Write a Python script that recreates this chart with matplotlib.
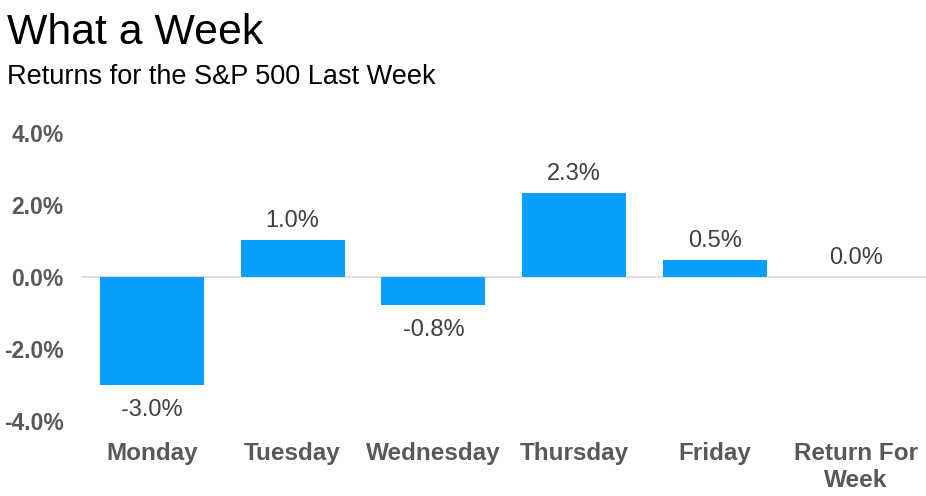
import matplotlib.pyplot as plt

plt.rcParams['font.family'] = ['Liberation Sans', 'DejaVu Sans']

# data
days = ['Monday', 'Tuesday', 'Wednesday', 'Thursday', 'Friday', 'Return For\nWeek']
returns = [-3.0, 1.03, -0.78, 2.33, 0.47, 0.0]
yticks = [-4, -2, 0, 2, 4]

fig = plt.figure(figsize=(9.26, 4.96), dpi=100)
ax = fig.add_axes([0.088, 0.151, 0.912, 0.581])

x = range(len(days))
ax.bar(x, returns, width=0.74, color='#0A9EFF', zorder=2)
ax.axhline(0, color='#D9D9D9', linewidth=1.2, zorder=1)

# value labels
for i, v in enumerate(returns):
    if v < 0:
        ax.annotate(f'{v:.1f}%', (i, v), xytext=(0, -10), textcoords='offset points',
                    ha='center', va='top', fontsize=17, color='#404040')
    else:
        ax.annotate(f'{v:.1f}%', (i, v), xytext=(0, 6), textcoords='offset points',
                    ha='center', va='bottom', fontsize=17, color='#404040')

ax.set_xlim(-0.5, len(days) - 0.5)
ax.set_ylim(-4, 4)
ax.set_yticks(yticks)
ax.set_yticklabels([f'{t:.1f}%' for t in yticks], fontsize=16.5, fontweight='bold', color='#595959')
ax.set_xticks(list(x))
ax.set_xticklabels(days, fontsize=17.5, fontweight='bold', color='#595959', linespacing=1.2)
ax.tick_params(axis='y', length=0, pad=13)
ax.tick_params(axis='x', length=0, pad=15)
for s in ax.spines.values():
    s.set_visible(False)

fig.text(0.008, 0.912, 'What a Week', fontsize=30.8, color='black', va='baseline')
fig.text(0.008, 0.830, 'Returns for the S&P 500 Last Week', fontsize=19.5, color='black', va='baseline')

plt.savefig('out.png', dpi=100)
